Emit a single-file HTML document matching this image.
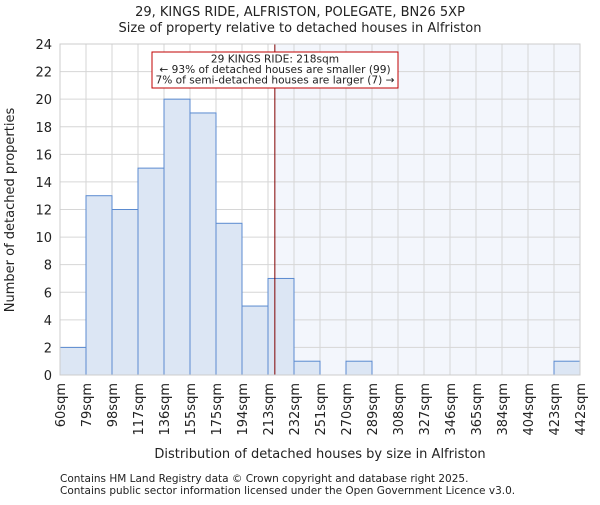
<!DOCTYPE html>
<html><head><meta charset="utf-8"><style>body{margin:0;background:#fff}svg text{font-family:"DejaVu Sans","Liberation Sans",sans-serif;fill:#222}</style></head>
<body>
<svg id="c" width="600" height="500" xmlns="http://www.w3.org/2000/svg"></svg>
<script>
const binEdges=[60,79,98,117,136,155,175,194,213,232,251,270,289,308,327,346,365,384,404,423,442];
const counts=[2,13,12,15,20,19,11,5,7,1,0,1,0,0,0,0,0,0,0,1];
const yTicks=[0,2,4,6,8,10,12,14,16,18,20,22,24];
const subjectValue=218;
const NS="http://www.w3.org/2000/svg";
const svg=document.getElementById('c');
const L=60,R=580,T=44,B=375,yMax=24,n=counts.length;
const bw=(R-L)/n;
const xi=i=>L+i*bw;
function xv(v){for(let i=0;i<n;i++){if(v<=binEdges[i+1])return xi(i)+(v-binEdges[i])/(binEdges[i+1]-binEdges[i])*bw;}return R;}
const y=v=>B-v/yMax*(B-T);
function el(t,a,p){const e=document.createElementNS(NS,t);for(const k in a)e.setAttribute(k,a[k]);(p||svg).appendChild(e);return e;}
const sx=xv(subjectValue);
let r=el('rect',{x:sx,y:T,width:R-sx,height:B-T,fill:'#f3f6fc'});


for(let i=0;i<=n;i++){const g=el('line',{x1:xi(i),x2:xi(i),y1:T,y2:B,stroke:'#d6d6d6'});

}
yTicks.forEach(t=>{const g=el('line',{x1:L,x2:R,y1:y(t),y2:y(t),stroke:'#d6d6d6'});


const tx=el('text',{x:L-8,y:y(t)+5,'text-anchor':'end','font-size':13});tx.textContent=t;

});
counts.forEach((c,i)=>{if(c<=0)return;const b=el('rect',{x:xi(i),y:y(c),width:bw,height:B-y(c),fill:'#dce6f4',stroke:'#5b8bd0','stroke-width':1});

});
binEdges.forEach((e,i)=>{const tx=el('text',{transform:`translate(${xi(i)+5},${B+8}) rotate(-90)`,'text-anchor':'end','font-size':13});tx.textContent=e+'sqm';

});
let ln=el('line',{x1:sx,x2:sx,y1:T,y2:B,stroke:'#800000','stroke-width':1});


let ax=el('rect',{x:L,y:T,width:R-L,height:B-T,fill:'none',stroke:'#ccc'});


let box=el('rect',{x:152,y:52,width:246,height:36,fill:'#fff',stroke:'#c00000'});


['29 KINGS RIDE: 218sqm','← 93% of detached houses are smaller (99)','7% of semi-detached houses are larger (7) →'].forEach((s,i)=>{const tx=el('text',{x:275,y:62.5+i*10.5,'text-anchor':'middle','font-size':10.6});tx.textContent=s;

});
function lab(s,a,name){const tx=el('text',a);tx.textContent=s;}
lab('29, KINGS RIDE, ALFRISTON, POLEGATE, BN26 5XP',{x:300,y:16,'text-anchor':'middle','font-size':13},'chart-title');
lab('Size of property relative to detached houses in Alfriston',{x:300,y:32,'text-anchor':'middle','font-size':13},'chart-subtitle');
lab('Distribution of detached houses by size in Alfriston',{x:320,y:458,'text-anchor':'middle','font-size':13},'x-axis-title');
lab('Number of detached properties',{transform:'translate(14,210) rotate(-90)','text-anchor':'middle','font-size':13},'y-axis-title');
lab('Contains HM Land Registry data © Crown copyright and database right 2025.',{x:60,y:482,'font-size':10.5},'footer-line-1');
lab('Contains public sector information licensed under the Open Government Licence v3.0.',{x:60,y:494,'font-size':10.5},'footer-line-2');
</script>
</body></html>
